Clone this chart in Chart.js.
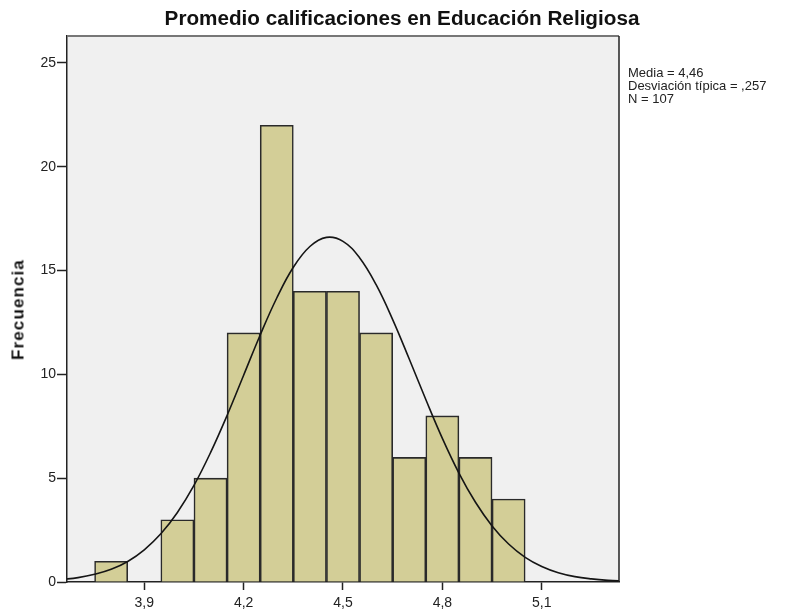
<!DOCTYPE html>
<html>
<head>
<meta charset="utf-8">
<script src="https://cdn.jsdelivr.net/npm/chart.js@4.4.1/dist/chart.umd.min.js"></script>
<style>
	body { margin: 0; background: #fff; }
	#wrap { position: relative; width: 786px; height: 612px; font-family: "Liberation Sans", Arial, sans-serif; color: #111; }
	#chartTitle { position: absolute; left: 142px; top: 8px; width: 520px; text-align: center; font-size: 20.7px; font-weight: bold; line-height: 20px; white-space: nowrap; }
	#yTitle { position: absolute; left: -52px; top: 301px; width: 140px; height: 17px; line-height: 17px; text-align: center; font-size: 17px; font-weight: bold; letter-spacing: 1.1px; transform: rotate(-90deg); white-space: nowrap; }
	#stats { position: absolute; left: 628px; top: 66px; font-size: 13px; line-height: 13px; color: #222; white-space: nowrap; }
	canvas { position: absolute; left: 0; top: 0; }
</style>
</head>
<body>
<div id="wrap">
	<canvas id="histChart" width="786" height="612"></canvas>
	<div id="chartTitle">Promedio calificaciones en Educación Religiosa</div>
	<div id="yTitle">Frecuencia</div>
	<div id="stats">Media = 4,46<br>Desviación típica = ,257<br>N = 107</div>
</div>
<script>
// Histogram bins (centre of each 0,1 wide bin) and frequencies
var binCenters = [3.8, 3.9, 4.0, 4.1, 4.2, 4.3, 4.4, 4.5, 4.6, 4.7, 4.8, 4.9, 5.0];
var binCounts = [1, 0, 3, 5, 12, 22, 14, 14, 12, 6, 8, 6, 4];

// Normal curve
var curveX = [3.65, 3.70, 3.75, 3.80, 3.85, 3.90, 3.95, 4.00, 4.05, 4.10, 4.15, 4.20, 4.25, 4.30, 4.35, 4.40, 4.45,
	4.50, 4.55, 4.60, 4.65, 4.70, 4.75, 4.80, 4.85, 4.90, 4.95, 5.00, 5.05, 5.10, 5.15, 5.20, 5.25, 5.30, 5.35];
var curveY = [0.12, 0.21, 0.37, 0.61, 0.99, 1.55, 2.32, 3.35, 4.65, 6.23, 8.02, 9.96, 11.90, 13.68, 15.16, 16.16, 16.60,
	16.41, 15.62, 14.32, 12.64, 10.74, 8.79, 6.92, 5.25, 3.84, 2.70, 1.83, 1.19, 0.75, 0.45, 0.26, 0.15, 0.08, 0.04];

// Axis ticks
var xTicks = [3.9, 4.2, 4.5, 4.8, 5.1];
var yTicks = [0, 5, 10, 15, 20, 25];

var tickFont = { family: '"Liberation Sans", Arial, sans-serif', size: 14 };

/**
 * Plot background and the top/right frame lines
 */
var plotFrame = {
	id: 'plotFrame',
	beforeDraw: function (chart) {
		var a = chart.chartArea, c = chart.ctx;
		c.save();
		c.fillStyle = '#f0f0f0';
		c.fillRect(a.left, a.top, a.right - a.left, a.bottom - a.top);
		c.restore();
	},
	afterDraw: function (chart) {
		var a = chart.chartArea, c = chart.ctx;
		c.save();
		c.strokeStyle = '#777';
		c.lineWidth = 2;
		c.beginPath();
		c.moveTo(a.left, a.top);
		c.lineTo(a.right, a.top);
		c.stroke();
		c.strokeStyle = '#222';
		c.lineWidth = 1.5;
		c.beginPath();
		c.moveTo(a.right, a.top);
		c.lineTo(a.right, a.bottom);
		c.stroke();
		c.restore();
	}
};

function buildHistogram() {
	var barData = [], curveData = [];
	binCenters.forEach(function (x, i) {
		barData.push({ x: x, y: binCounts[i] });
	});
	curveX.forEach(function (x, i) {
		curveData.push({ x: x, y: curveY[i] });
	});

	return new Chart(document.getElementById('histChart'), {
		type: 'bar',
		data: {
			datasets: [
				{
					type: 'line',
					data: curveData,
					borderColor: '#151515',
					borderWidth: 1.6,
					pointRadius: 0,
					tension: 0.4,
					fill: false,
					order: 0
				},
				{
					type: 'bar',
					data: barData,
					backgroundColor: '#d3ce97',
					borderColor: '#2a2a2a',
					borderWidth: 1.6,
					barPercentage: 1,
					categoryPercentage: 1,
					order: 1
				}
			]
		},
		options: {
			responsive: false,
			animation: false,
			layout: { padding: { left: 0, right: 167, top: 36, bottom: 0 } },
			plugins: {
				legend: { display: false },
				title: { display: false },
				tooltip: { enabled: false }
			},
			scales: {
				x: {
					type: 'linear',
					min: 3.6667,
					max: 5.3333,
					offset: false,
					grid: { offset: false, drawOnChartArea: false, tickLength: 8, color: '#222', tickWidth: 1.5 },
					border: { color: '#222', width: 1.5 },
					ticks: {
						padding: 5,
						font: tickFont,
						color: '#222',
						maxRotation: 0,
						autoSkip: false,
						callback: function (v) { return v.toFixed(1).replace('.', ','); }
					},
					afterBuildTicks: function (scale) {
						scale.ticks = xTicks.map(function (v) { return { value: v }; });
					},
					afterFit: function (scale) { scale.height = 30; }
				},
				y: {
					min: 0,
					max: 26.3,
					grid: { drawOnChartArea: false, tickLength: 10, color: '#222', tickWidth: 1.5 },
					border: { color: '#222', width: 1.5 },
					ticks: { padding: 1, font: tickFont, color: '#222' },
					afterBuildTicks: function (scale) {
						scale.ticks = yTicks.map(function (v) { return { value: v }; });
					},
					afterFit: function (scale) { scale.width = 67; }
				}
			}
		},
		plugins: [plotFrame]
	});
}

buildHistogram();
</script>
</body>
</html>
